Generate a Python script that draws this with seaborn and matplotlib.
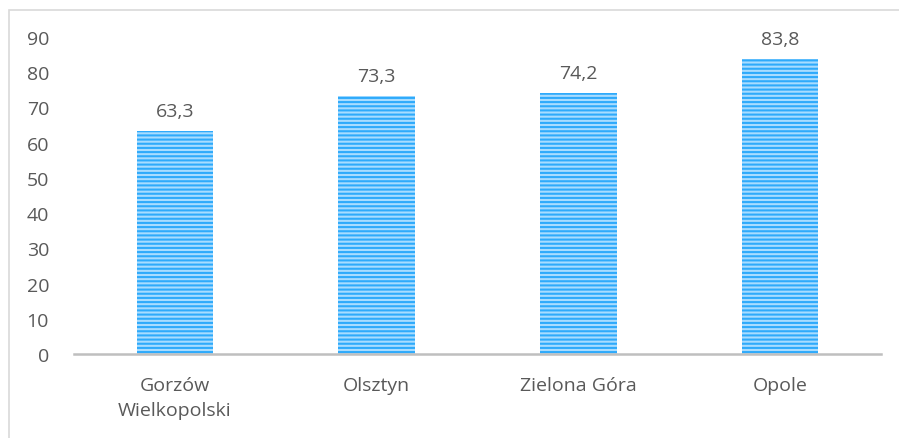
import matplotlib
matplotlib.use("Agg")
import matplotlib.pyplot as plt
import seaborn as sns
import pandas as pd
from matplotlib.patches import Rectangle

cities = ["Gorzów\nWielkopolski", "Olsztyn", "Zielona Góra", "Opole"]
values = [63.3, 73.3, 74.2, 83.8]
yticks = [0, 10, 20, 30, 40, 50, 60, 70, 80, 90]

sns.set_theme(style="white")
plt.rcParams["font.family"] = ["Open Sans", "DejaVu Sans"]
plt.rcParams["hatch.linewidth"] = 1.5

text_color = "#595959"
stripe_color = "#2EAAFB"
fs = 14

df = pd.DataFrame({"city": cities, "value": values})

fig = plt.figure(figsize=(8.99, 4.39), dpi=100)
ax = fig.add_axes([74 / 899, 1 - 355 / 439, (881 - 74) / 899, (355 - 38) / 439])

sns.barplot(data=df, x="city", y="value", color="#A8DCFF", width=0.38,
            saturation=1, ax=ax)
for bar in ax.patches:
    bar.set_hatch("----")
    bar.set_edgecolor(stripe_color)
    bar.set_linewidth(0)

for bar, v in zip(ax.patches, values):
    ax.annotate(f"{v:.1f}".replace(".", ","),
                (bar.get_x() + bar.get_width() / 2, v),
                xytext=(0, 8), textcoords="offset points",
                ha="center", va="bottom", fontsize=fs, color=text_color)

ax.set_ylim(0, 90)
ax.set_xlim(-0.5, 3.5)
ax.set_yticks(yticks)
ax.set_yticklabels([str(t) for t in yticks])
ax.set_xlabel("")
ax.set_ylabel("")
ax.tick_params(axis="y", length=0, pad=18, labelsize=fs, labelcolor=text_color)
ax.tick_params(axis="x", length=0, pad=16, labelsize=fs, labelcolor=text_color)
for lbl in ax.get_xticklabels():
    lbl.set_linespacing(1.45)

for side in ["top", "right", "left"]:
    ax.spines[side].set_visible(False)
ax.spines["bottom"].set_color("#BFBFBF")
ax.spines["bottom"].set_linewidth(1.8)

# light frame around the chart area
fig.patches.append(Rectangle((9 / 899, -0.1), 1.2, 1 - 11 / 439 + 0.1,
                             transform=fig.transFigure, fill=False,
                             edgecolor="#D9D9D9", linewidth=1.2))

fig.savefig("out.png", dpi=100)
